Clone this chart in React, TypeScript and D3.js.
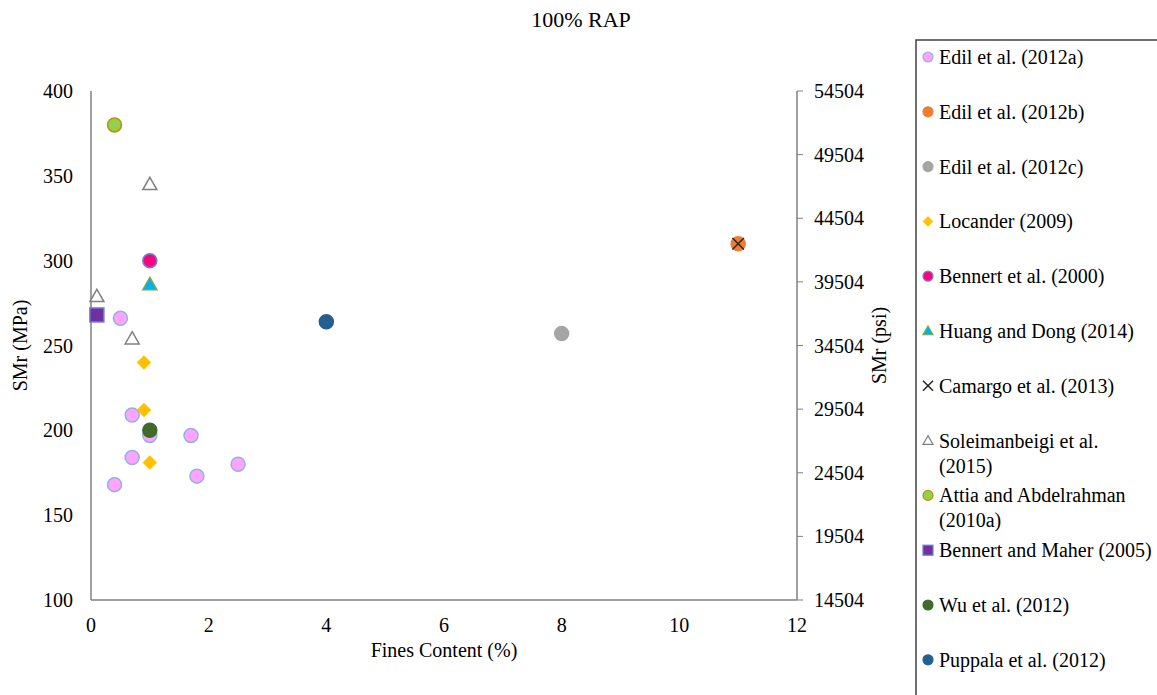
import React from "react";
import * as d3 from "d3";

const W = 1157;
const H = 695;

const xTicks = [0, 2, 4, 6, 8, 10, 12];
const yTicks = [100, 150, 200, 250, 300, 350, 400];
const psiTicks = [14504, 19504, 24504, 29504, 34504, 39504, 44504, 49504, 54504];

const edil2012a = [
  [0.5, 266], [0.7, 209], [1.0, 197], [1.7, 197], [0.7, 184],
  [2.5, 180], [1.8, 173], [0.4, 168],
];
const edil2012b = [[11, 310]];
const edil2012c = [[8, 257]];
const locander = [[0.9, 240], [0.9, 212], [1.0, 181]];
const bennert2000 = [[1.0, 300]];
const huangDong = [[1.0, 286]];
const camargo = [[11, 310]];
const soleimanbeigi = [[1.0, 345], [0.1, 279], [0.7, 254]];
const attia = [[0.4, 380]];
const bennertMaher = [[0.1, 268]];
const wu = [[1.0, 200]];
const puppala = [[4.0, 264]];

type Shape = "circle" | "diamond" | "triangle" | "x" | "square";
interface Series {
  name: string[];
  data: number[][];
  shape: Shape;
  fill: string;
  stroke: string;
}

const series: Series[] = [
  { name: ["Edil et al. (2012a)"], data: edil2012a, shape: "circle", fill: "#FFA3FF", stroke: "#8FB4E3" },
  { name: ["Edil et al. (2012b)"], data: edil2012b, shape: "circle", fill: "#ED7D31", stroke: "#ED7D31" },
  { name: ["Edil et al. (2012c)"], data: edil2012c, shape: "circle", fill: "#A5A5A5", stroke: "#A5A5A5" },
  { name: ["Locander (2009)"], data: locander, shape: "diamond", fill: "#FFC000", stroke: "#FFC000" },
  { name: ["Bennert et al. (2000)"], data: bennert2000, shape: "circle", fill: "#FF0080", stroke: "#6F7FD0" },
  { name: ["Huang and Dong (2014)"], data: huangDong, shape: "triangle", fill: "#00B0F0", stroke: "#70AD47" },
  { name: ["Camargo et al. (2013)"], data: camargo, shape: "x", fill: "none", stroke: "#262626" },
  { name: ["Soleimanbeigi et al.", "(2015)"], data: soleimanbeigi, shape: "triangle", fill: "#FFFFFF", stroke: "#808080" },
  { name: ["Attia and Abdelrahman", "(2010a)"], data: attia, shape: "circle", fill: "#92D050", stroke: "#BF9000" },
  { name: ["Bennert and Maher (2005)"], data: bennertMaher, shape: "square", fill: "#7030A0", stroke: "#6F7FD0" },
  { name: ["Wu et al. (2012)"], data: wu, shape: "circle", fill: "#3F6A2A", stroke: "#3F6A2A" },
  { name: ["Puppala et al. (2012)"], data: puppala, shape: "circle", fill: "#255E91", stroke: "#255E91" },
];

const FONT = "'Liberation Serif', 'Times New Roman', serif";

function Marker({ shape, x, y, s, fill, stroke }: { shape: Shape; x: number; y: number; s: number; fill: string; stroke: string }) {
  const sw = s > 5 ? 1.5 : 1.2;
  if (shape === "circle") {
    return <circle cx={x} cy={y} r={s} fill={fill} stroke={stroke} strokeWidth={sw} />;
  }
  if (shape === "diamond") {
    const r = s * 1.0;
    return <path d={`M${x},${y - r}L${x + r},${y}L${x},${y + r}L${x - r},${y}Z`} fill={fill} stroke={stroke} strokeWidth={0.5} />;
  }
  if (shape === "square") {
    const r = s;
    return <rect x={x - r} y={y - r} width={2 * r} height={2 * r} fill={fill} stroke={stroke} strokeWidth={sw} />;
  }
  if (shape === "triangle") {
    const r = s;
    return (
      <path
        d={`M${x},${y - r}L${x + r},${y + r * 0.75}L${x - r},${y + r * 0.75}Z`}
        fill={fill}
        stroke={stroke}
        strokeWidth={sw}
      />
    );
  }
  const r = s * 0.72;
  return (
    <path
      d={`M${x - r},${y - r}L${x + r},${y + r}M${x + r},${y - r}L${x - r},${y + r}`}
      stroke={stroke}
      strokeWidth={1.5}
      fill="none"
    />
  );
}

export default function App() {
  const left = 91;
  const right = 797;
  const top = 91;
  const bottom = 600;

  const x = d3.scaleLinear().domain([0, 12]).range([left, right]);
  const y = d3.scaleLinear().domain([100, 400]).range([bottom, top]);
  const yPsi = d3.scaleLinear().domain([14504, 54504]).range([bottom, top]);

  const axisColor = "#808080";
  const legendX = 916;
  const legendTop = 40;
  const legendStart = 57;
  const legendStep = 54.8;

  return (
    <svg
      width={W}
      height={H}
      style={{ position: "absolute", left: 0, top: 0, background: "#fff" }}
      fontFamily={FONT}
    >
      <rect x={0} y={0} width={W} height={H} fill="#fff" />
      <text x={581} y={27} textAnchor="middle" fontSize={22} fill="#000">
        100% RAP
      </text>

      {/* axes */}
      <line x1={left} x2={left} y1={top} y2={bottom} stroke={axisColor} strokeWidth={1.5} />
      <line x1={left} x2={right} y1={bottom} y2={bottom} stroke={axisColor} strokeWidth={1.5} />
      <line x1={right} x2={right} y1={top} y2={bottom} stroke={axisColor} strokeWidth={1.5} />

      {yTicks.map((t) => (
        <text key={"y" + t} x={73} y={y(t)} dy="0.35em" textAnchor="end" fontSize={20} fill="#000">
          {t}
        </text>
      ))}
      {psiTicks.map((t) => (
        <g key={"p" + t}>
          <line x1={right} x2={right + 6} y1={yPsi(t)} y2={yPsi(t)} stroke={axisColor} strokeWidth={1} />
          <text x={814} y={yPsi(t)} dy="0.35em" textAnchor="start" fontSize={20} fill="#000">
            {t}
          </text>
        </g>
      ))}
      {xTicks.map((t) => (
        <text key={"x" + t} x={x(t)} y={632} textAnchor="middle" fontSize={20} fill="#000">
          {t}
        </text>
      ))}

      <text x={444} y={657} textAnchor="middle" fontSize={20} fill="#000">
        Fines Content (%)
      </text>
      <text transform={`translate(27,${(top + bottom) / 2}) rotate(-90)`} textAnchor="middle" fontSize={20} fill="#000">
        SMr (MPa)
      </text>
      <text transform={`translate(886,${(top + bottom) / 2}) rotate(-90)`} textAnchor="middle" fontSize={20} fill="#000">
        SMr (psi)
      </text>

      {/* data */}
      {series.map((s, i) => (
        <g key={"s" + i}>
          {s.data.map((d, j) => (
            <Marker key={j} shape={s.shape} x={x(d[0])} y={y(d[1])} s={s.shape === "x" ? 8 : 7} fill={s.fill} stroke={s.stroke} />
          ))}
        </g>
      ))}

      {/* legend */}
      <rect x={legendX} y={legendTop} width={W - legendX + 5} height={H} fill="#fff" stroke="#404040" strokeWidth={1.5} />
      {series.map((s, i) => {
        const cy = legendStart + i * legendStep;
        return (
          <g key={"l" + i}>
            <Marker shape={s.shape} x={928} y={cy} s={s.shape === "x" ? 7 : 5} fill={s.fill} stroke={s.stroke} />
            {s.name.map((n, k) => (
              <text key={k} x={939} y={cy + k * 25} dy="0.35em" fontSize={20} fill="#000">
                {n}
              </text>
            ))}
          </g>
        );
      })}
    </svg>
  );
}
